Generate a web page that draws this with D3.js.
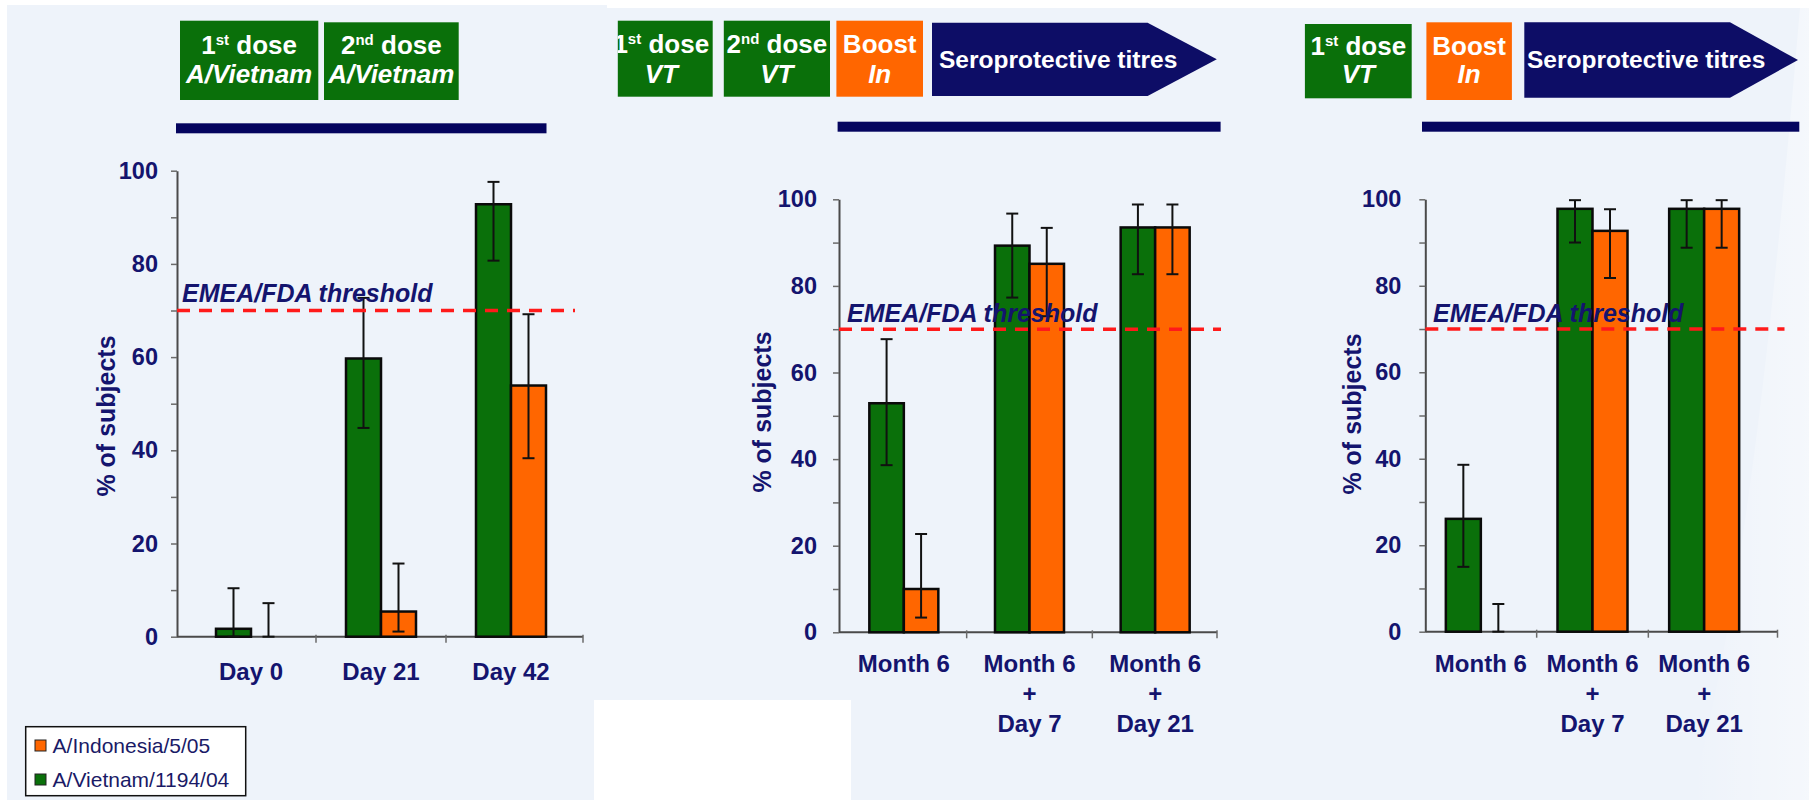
<!DOCTYPE html>
<html lang="en">
<head>
<meta charset="utf-8">
<title>Seroprotection rates</title>
<style>
  body { margin: 0; padding: 0; background: #ffffff; }
  svg { display: block; }
  text { font-family: "Liberation Sans", Arial, sans-serif; }
</style>
</head>
<body>
<svg id="chart" width="1809" height="800"></svg>
<script src="https://cdnjs.cloudflare.com/ajax/libs/d3/7.8.5/d3.min.js"></script>
<script>
// ---- data ----
const series = ["A/Vietnam/1194/04", "A/Indonesia/5/05"];
const legendOrder = ["A/Indonesia/5/05", "A/Vietnam/1194/04"];
const yTickLabels = [0, 20, 40, 60, 80, 100];
const yAllTicks = [0, 10, 20, 30, 40, 50, 60, 70, 80, 90, 100];
const threshold = 70;
const thresholdLabel = "EMEA/FDA threshold";
const yTitle = "% of subjects";

// panel A: primary vaccination
const categoriesA = ["Day 0", "Day 21", "Day 42"];
const vietnamA = [1.7, 59.7, 92.8];
const vietnamLowA = [0, 44.8, 80.7];
const vietnamHighA = [10.4, 72.7, 97.6];
const indonesiaA = [0, 5.4, 53.9];
const indonesiaLowA = [0, 1.1, 38.3];
const indonesiaHighA = [7.2, 15.7, 69.2];
const headersA = [["1st dose", "A/Vietnam"], ["2nd dose", "A/Vietnam"]];

// panel B: two doses then boost
const categoriesB = ["Month 6", "Month 6\n+\nDay 7", "Month 6\n+\nDay 21"];
const vietnamB = [52.9, 89.3, 93.5];
const vietnamLowB = [38.6, 77.3, 82.7];
const vietnamHighB = [67.7, 96.7, 98.8];
const indonesiaB = [10.0, 85.1, 93.5];
const indonesiaLowB = [3.4, 73.0, 82.7];
const indonesiaHighB = [22.7, 93.4, 98.8];
const headersB = [["1st dose", "VT"], ["2nd dose", "VT"], ["Boost", "In"]];

// panel C: one dose then boost
const categoriesC = ["Month 6", "Month 6\n+\nDay 7", "Month 6\n+\nDay 21"];
const vietnamC = [26.1, 97.8, 97.8];
const vietnamLowC = [15.0, 90.0, 88.8];
const vietnamHighC = [38.6, 99.8, 99.8];
const indonesiaC = [0, 92.7, 97.8];
const indonesiaLowC = [0, 81.8, 88.8];
const indonesiaHighC = [6.4, 97.7, 99.8];
const headersC = [["1st dose", "VT"], ["Boost", "In"]];

const arrowLabel = "Seroprotective titres";

// ---- styles ----
const GREEN = "#0a700a";
const ORANGE = "#ff6600";
const NAVY = "#14146e";
const RULE = "#04045e";
const colors = { "A/Vietnam/1194/04": GREEN, "A/Indonesia/5/05": ORANGE };
const BG = "#eef3fa";

// ---- layout ----
const panels = [
  {
    cats: categoriesA,
    values: [[vietnamA, vietnamLowA, vietnamHighA], [indonesiaA, indonesiaLowA, indonesiaHighA]],
    axisX: 177, y0: 636.7, y100: 170.7, axisEnd: 583, band: [186, 576], barW: 35,
    labelDy: 43.5, thrEnd: 575, thrLabelX: 182, thrLabelY: 301.7,
    titleX: 106, titleY: 416, tickPad: 13,
    rule: [176, 546.5, 123.3],
    boxes: [
      { x0: 180, x1: 318.3, y0: 20.7, y1: 100, fill: GREEN, lines: headersA[0], b1: 54, b2: 83.3 },
      { x0: 324, x1: 458.7, y0: 22.3, y1: 100, fill: GREEN, lines: headersA[1], b1: 54, b2: 83.3 }
    ],
    arrow: null
  },
  {
    cats: categoriesB,
    values: [[vietnamB, vietnamLowB, vietnamHighB], [indonesiaB, indonesiaLowB, indonesiaHighB]],
    axisX: 839, y0: 632.3, y100: 199.3, axisEnd: 1217, band: [841, 1218], barW: 34.5,
    labelDy: 39.5, thrEnd: 1221, thrLabelX: 847, thrLabelY: 321.7,
    titleX: 762, titleY: 412, tickPad: 16,
    rule: [837.6, 1220.6, 121.7],
    boxes: [
      { x0: 617.8, x1: 712.7, y0: 20.7, y1: 96.7, fill: GREEN, lines: headersB[0], b1: 53.3, b2: 82.7, shift: -4 },
      { x0: 723.8, x1: 830, y0: 20.7, y1: 96.7, fill: GREEN, lines: headersB[1], b1: 53.3, b2: 82.7 },
      { x0: 836.4, x1: 923, y0: 20.7, y1: 96.7, fill: ORANGE, lines: headersB[2], b1: 53.3, b2: 82.7 }
    ],
    arrow: { x0: 932, xt: 1147.6, x1: 1216.8, y0: 22.7, y1: 96, tx: 939, ty: 68.3 }
  },
  {
    cats: categoriesC,
    values: [[vietnamC, vietnamLowC, vietnamHighC], [indonesiaC, indonesiaLowC, indonesiaHighC]],
    axisX: 1425.3, y0: 631.7, y100: 199.3, axisEnd: 1777.5, band: [1425, 1760], barW: 35,
    labelDy: 40, thrEnd: 1784.5, thrLabelX: 1433, thrLabelY: 321.7,
    titleX: 1352, titleY: 414, tickPad: 18,
    rule: [1422, 1799.3, 121.7],
    boxes: [
      { x0: 1304.9, x1: 1411.7, y0: 24, y1: 98.3, fill: GREEN, lines: headersC[0], b1: 55, b2: 83.3 },
      { x0: 1426.4, x1: 1511.9, y0: 22.3, y1: 100, fill: ORANGE, lines: headersC[1], b1: 55, b2: 83.3 }
    ],
    arrow: { x0: 1524.3, xt: 1730, x1: 1798, y0: 22.3, y1: 97.7, tx: 1527, ty: 68.3 }
  }
];

const svg = d3.select("#chart");

// background: slide areas and the white gaps between pasted images
svg.append("rect").attr("width", 1809).attr("height", 800).attr("fill", "#ffffff");
svg.append("rect").attr("x", 7).attr("y", 5).attr("width", 600).attr("height", 795).attr("fill", BG);
svg.append("rect").attr("x", 594).attr("y", 8).attr("width", 1215).attr("height", 792).attr("fill", BG);
svg.append("rect").attr("x", 594).attr("y", 700).attr("width", 257).attr("height", 100).attr("fill", "#ffffff");

const defs = svg.append("defs");
const grad = defs.append("linearGradient").attr("id", "sheen").attr("x1", "0").attr("x2", "1").attr("y1", "0").attr("y2", "0");
grad.append("stop").attr("offset", "0").attr("stop-color", "#ffffff").attr("stop-opacity", 0);
grad.append("stop").attr("offset", "1").attr("stop-color", "#ffffff").attr("stop-opacity", 0.4);
svg.append("path")
  .attr("d", "M1809,8 L1800,8 C1775,300 1745,600 1690,800 L1809,800 Z")
  .attr("fill", "url(#sheen)");

function ordinalText(sel, str) {
  const m = str.match(/^(\d)(st|nd|rd|th)(.*)$/);
  if (!m) { sel.text(str); return; }
  sel.append("tspan").text(m[1]);
  sel.append("tspan").attr("font-size", 15).attr("dy", -9).text(m[2]);
  sel.append("tspan").attr("dy", 9).text(m[3]);
}

panels.forEach((p, pi) => {
  const g = svg.append("g").attr("class", "panel panel-" + pi);

  // header boxes
  p.boxes.forEach((b, bi) => {
    const clipId = `clip-${pi}-${bi}`;
    defs.append("clipPath").attr("id", clipId)
      .append("rect").attr("x", b.x0).attr("y", b.y0).attr("width", b.x1 - b.x0).attr("height", b.y1 - b.y0);
    g.append("rect")
      .attr("x", b.x0).attr("y", b.y0)
      .attr("width", b.x1 - b.x0).attr("height", b.y1 - b.y0)
      .attr("fill", b.fill);
    const cx = (b.x0 + b.x1) / 2 + (b.shift || 0);
    const tg = g.append("g").attr("clip-path", `url(#${clipId})`);
    const t1 = tg.append("text")
      .attr("x", cx).attr("y", b.b1)
      .attr("text-anchor", "middle")
      .attr("font-size", 26).attr("font-weight", "bold").attr("fill", "#ffffff");
    ordinalText(t1, b.lines[0]);
    tg.append("text")
      .attr("x", cx).attr("y", b.b2)
      .attr("text-anchor", "middle")
      .attr("font-size", 26).attr("font-weight", "bold").attr("font-style", "italic")
      .attr("fill", "#ffffff")
      .text(b.lines[1]);
  });

  if (p.arrow) {
    const a = p.arrow;
    const ym = (a.y0 + a.y1) / 2;
    g.append("path")
      .attr("d", `M${a.x0},${a.y0} L${a.xt},${a.y0} L${a.x1},${ym} L${a.xt},${a.y1} L${a.x0},${a.y1} Z`)
      .attr("fill", "#0d0d66");
    g.append("text")
      .attr("x", a.tx).attr("y", a.ty)
      .attr("font-size", 24.5).attr("font-weight", "bold").attr("fill", "#ffffff")
      .text(arrowLabel);
  }

  // rule under header
  g.append("rect")
    .attr("x", p.rule[0]).attr("y", p.rule[2])
    .attr("width", p.rule[1] - p.rule[0]).attr("height", 10)
    .attr("fill", RULE);

  // scales
  const y = d3.scaleLinear().domain([0, 100]).range([p.y0, p.y100]);
  const x = d3.scaleBand().domain(p.cats).range(p.band).padding(0);
  const inner = d3.scaleBand().domain(series).range([0, 2 * p.barW]);

  // y axis
  const yAxis = d3.axisLeft(y)
    .tickValues(yAllTicks)
    .tickSize(6).tickSizeOuter(0)
    .tickPadding(p.tickPad)
    .tickFormat(d => yTickLabels.includes(d) ? d : "");
  const gy = g.append("g").attr("transform", `translate(${p.axisX},0)`).call(yAxis);
  gy.attr("font-family", null).attr("font-size", null);
  gy.select(".domain").attr("stroke", "#4a4a4a").attr("stroke-width", 2);
  gy.selectAll(".tick line").attr("stroke", "#6a6a6a").attr("stroke-width", 1.5);
  gy.selectAll(".tick text")
    .attr("font-size", 23.5).attr("font-weight", "bold").attr("fill", NAVY);

  // x axis line and boundary ticks
  g.append("line")
    .attr("x1", p.axisX).attr("x2", p.axisEnd)
    .attr("y1", p.y0).attr("y2", p.y0)
    .attr("stroke", "#4a4a4a").attr("stroke-width", 2);
  const bounds = p.cats.map(c => x(c) + x.bandwidth()).slice(0, -1).concat([p.axisEnd]);
  g.selectAll(".xtick").data(bounds).join("line")
    .attr("class", "xtick")
    .attr("x1", d => d).attr("x2", d => d)
    .attr("y1", p.y0 - 2).attr("y2", p.y0 + 6)
    .attr("stroke", "#6a6a6a").attr("stroke-width", 1.5);

  const xAxis = d3.axisBottom(x).tickSize(0).tickFormat(d => d);
  const gx = g.append("g").attr("transform", `translate(0,${p.y0})`).call(xAxis);
  gx.attr("font-family", null).attr("font-size", null);
  gx.select(".domain").remove();
  gx.selectAll(".tick text").each(function (d) {
    const t = d3.select(this).text(null).attr("y", null).attr("dy", null)
      .attr("font-size", 24).attr("font-weight", "bold").attr("fill", NAVY);
    d.split("\n").forEach((line, i) => {
      t.append("tspan").attr("x", 0).attr("y", p.labelDy + i * 30).text(line);
    });
  });

  // y title
  g.append("text")
    .attr("transform", `translate(${p.titleX},${p.titleY}) rotate(-90)`)
    .attr("text-anchor", "middle").attr("dominant-baseline", "central")
    .attr("font-size", 25).attr("font-weight", "bold").attr("fill", NAVY)
    .text(yTitle);

  // bars
  const rows = [];
  p.cats.forEach((c, ci) => {
    series.forEach((s, si) => {
      const [vals, lows, highs] = p.values[si];
      rows.push({ cat: c, s: s, v: vals[ci], lo: lows[ci], hi: highs[ci] });
    });
  });
  const gx0 = d => x(d.cat) + x.bandwidth() / 2 - p.barW + inner(d.s);

  g.selectAll(".bar").data(rows.filter(d => d.v > 0)).join("rect")
    .attr("class", "bar")
    .attr("x", gx0)
    .attr("y", d => y(d.v))
    .attr("width", inner.bandwidth())
    .attr("height", d => y(0) - y(d.v))
    .attr("fill", d => colors[d.s])
    .attr("stroke", "#0a0a0a").attr("stroke-width", 2.5);

  // error bars
  const eb = g.selectAll(".err").data(rows).join("g").attr("class", "err")
    .attr("stroke", "#111111").attr("stroke-width", 2);
  const cx = d => gx0(d) + inner.bandwidth() / 2;
  eb.append("line")
    .attr("x1", cx).attr("x2", cx)
    .attr("y1", d => y(d.lo)).attr("y2", d => y(d.hi));
  eb.append("line")
    .attr("x1", d => cx(d) - 6).attr("x2", d => cx(d) + 6)
    .attr("y1", d => y(d.hi)).attr("y2", d => y(d.hi));
  eb.append("line")
    .attr("x1", d => cx(d) - 6).attr("x2", d => cx(d) + 6)
    .attr("y1", d => y(d.lo)).attr("y2", d => y(d.lo));

  // threshold
  g.append("line")
    .attr("x1", p.axisX).attr("x2", p.thrEnd)
    .attr("y1", y(threshold)).attr("y2", y(threshold))
    .attr("stroke", "#ff1a1a").attr("stroke-width", 3.5)
    .attr("stroke-dasharray", "13,9");
  g.append("text")
    .attr("x", p.thrLabelX).attr("y", p.thrLabelY)
    .attr("font-size", 25).attr("font-weight", "bold").attr("font-style", "italic")
    .attr("fill", NAVY)
    .text(thresholdLabel);
});

// legend
const legend = svg.append("g").attr("class", "legend");
legend.append("rect")
  .attr("x", 25.7).attr("y", 726.7).attr("width", 220).attr("height", 69)
  .attr("fill", "#ffffff").attr("stroke", "#111111").attr("stroke-width", 1.5);
const li = legend.selectAll(".item").data(legendOrder).join("g")
  .attr("class", "item")
  .attr("transform", (d, i) => `translate(35,${740 + i * 34})`);
li.append("rect")
  .attr("width", 11).attr("height", 11)
  .attr("fill", d => colors[d]).attr("stroke", "#222").attr("stroke-width", 1);
li.append("text")
  .attr("x", 17.6).attr("y", 12.7)
  .attr("font-size", 21).attr("fill", "#1a1a66")
  .text(d => d);
</script>
</body>
</html>
